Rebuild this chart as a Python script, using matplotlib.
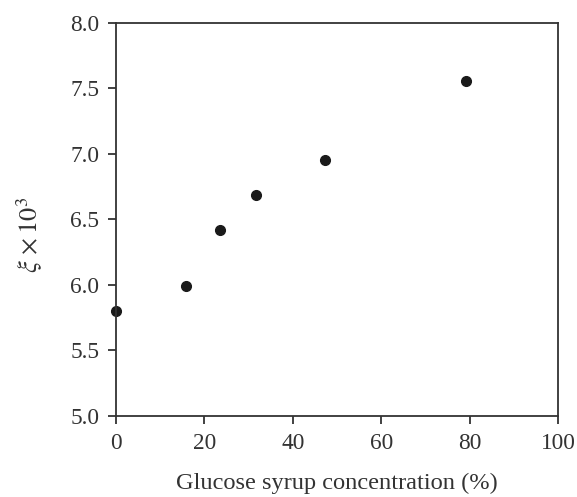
import matplotlib.pyplot as plt

plt.rcParams['font.family'] = ['Liberation Serif', 'DejaVu Serif']
plt.rcParams['mathtext.fontset'] = 'stix'

concentration = [0, 15.8, 23.6, 31.6, 47.4, 79.1]
xi = [5.80, 5.99, 6.42, 6.69, 6.95, 7.56]

fig = plt.figure(figsize=(5.77, 4.97), dpi=100)
ax = fig.add_axes([0.201, 0.163, 0.766, 0.791])

ax.plot(concentration, xi, 'o', color='#1a1a1a', markersize=7, clip_on=False)

ax.set_xlim(0, 100)
ax.set_ylim(5.0, 8.0)
ax.set_xticks([0, 20, 40, 60, 80, 100])
ax.set_yticks([5.0, 5.5, 6.0, 6.5, 7.0, 7.5, 8.0])
ax.set_yticklabels([f'{v:.1f}' for v in ax.get_yticks()])

for s in ax.spines.values():
    s.set_color('#333333')
    s.set_linewidth(1.3)
ax.tick_params(direction='out', length=6, width=1.3, color='#333333',
               labelsize=16.8, labelcolor='#333333', pad=6)

ax.set_xlabel('Glucose syrup concentration (%)', fontsize=17.6, color='#333333', labelpad=14)
ax.set_ylabel(r'$\xi\,\times10^3$', fontsize=19, color='#333333')
ax.yaxis.set_label_coords(-0.16, 0.46)

fig.savefig('out.png', dpi=100)
